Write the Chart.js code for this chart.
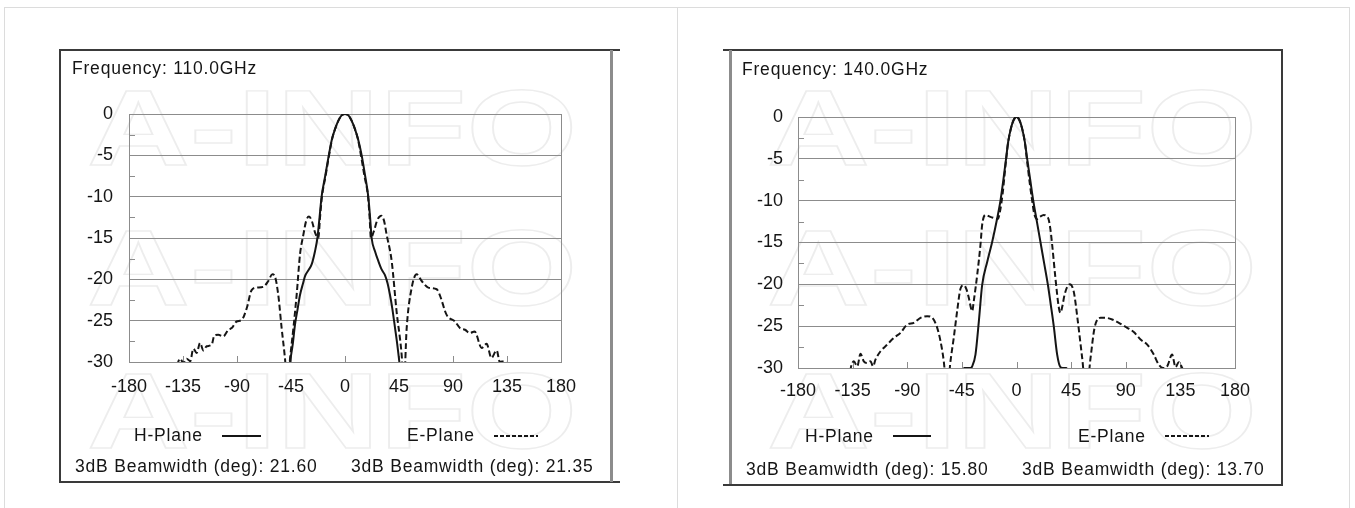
<!DOCTYPE html>
<html>
<head>
<meta charset="utf-8">
<title>Horn antenna radiation patterns</title>
<script src="https://cdn.jsdelivr.net/npm/chart.js@4.4.1/dist/chart.umd.min.js"></script>
<style>
    html, body { margin: 0; padding: 0; background: #fff; }
    body {
        position: relative;
        width: 1355px;
        height: 508px;
        overflow: hidden;
        font-family: "Liberation Sans", Arial, sans-serif;
        color: #151515;
    }
    .abs { position: absolute; }
    .frame { left: 4px; top: 7px; width: 1344px; height: 520px; border: 1px solid #dcdcdc; }
    .divider { left: 677px; top: 7px; width: 1px; height: 510px; background: #dcdcdc; }
    .dark { background: #3a3a3a; }
    .grey { background: #8c8c8c; }
    .label { font-size: 17.5px; letter-spacing: 0.8px; line-height: 20px; white-space: nowrap; }
    .solid { height: 2px; background: #151515; }
    .dashed { height: 2px; background: repeating-linear-gradient(90deg, #151515 0 4px, transparent 4px 6px); }
    canvas { position: absolute; }
</style>
</head>
<body>
<div class="abs frame"></div>
<div class="abs divider"></div>

<canvas id="c110" width="551" height="432" style="left:60px;top:50px"></canvas>
<canvas id="c140" width="552" height="435" style="left:730px;top:50px"></canvas>

<!-- box around the 110 GHz plot -->
<div class="abs dark" style="left:59px;top:49px;width:561px;height:2px"></div>
<div class="abs dark" style="left:59px;top:49px;width:2px;height:434px"></div>
<div class="abs dark" style="left:59px;top:481px;width:561px;height:2px"></div>
<div class="abs grey" style="left:610px;top:50px;width:3px;height:432px"></div>

<!-- box around the 140 GHz plot -->
<div class="abs dark" style="left:723px;top:49px;width:560px;height:2px"></div>
<div class="abs grey" style="left:729px;top:50px;width:3px;height:435px"></div>
<div class="abs dark" style="left:1281px;top:49px;width:2px;height:437px"></div>
<div class="abs dark" style="left:723px;top:484px;width:560px;height:2px"></div>

<script>
// ---- data ----

const frequencies = [110.0, 140.0];            // GHz
const beamwidthH = [21.60, 15.80];             // 3dB beamwidth, H-plane (deg)
const beamwidthE = [21.35, 13.70];             // 3dB beamwidth, E-plane (deg)

const xTicks = [-180, -135, -90, -45, 0, 45, 90, 135, 180];
const yTicks = [-30, -25, -20, -15, -10, -5, 0];

// 110 GHz, H-plane (solid)
const h110Deg = [-49, -45.8, -43.5, -41.7, -39.5, -37.5, -35, -33.3, -30.5, -27.8, -25, -23, -21.2, -19.5,
    -16.5, -13.5, -10.8, -8, -5.5, -3, 0, 3, 5.5, 8, 10.8, 13.9, 16.8, 19.4, 20.9, 22.2, 25, 27.8, 30.5,
    33.3, 35.5, 37.5, 39.5, 41.7, 43.5, 45.3, 49];
const h110Db = [-34, -30, -27.8, -25.5, -23.6, -21.9, -20.5, -19.6, -18.9, -18.2, -16.6, -15, -12.5, -10,
    -7.5, -5, -3, -1.7, -0.8, -0.2, 0, -0.2, -0.8, -1.7, -3, -5, -7.5, -10, -12.5, -15, -16.6, -17.8, -18.8,
    -19.5, -20.5, -21.9, -23.6, -25.9, -27.8, -30, -34];

// 110 GHz, E-plane (dashed)
const e110Deg = [-140, -137.5, -134.7, -131.9, -129, -126.4, -123.6, -120.8, -118, -115.3, -111.1, -108.9,
    -105.6, -101.4, -97.2, -94.4, -90.3, -86, -81.9, -77.8, -73.6, -68, -63.9, -60.6, -58.3, -55.6, -52.8,
    -50, -48, -45.8, -43, -40.3, -37.5, -34.7, -32.3, -30, -27.5, -24.8, -22.2, -20.8, -19.2, -16.2, -13.3,
    -10.7, -8, -5.5, -3, 0, 3, 5.5, 8, 10.7, 13.3, 16.2, 19.2, 20.5, 21.6, 24, 27, 30.3, 32.5, 34.7, 38.9,
    43, 47.2, 49, 51.4, 55.6, 59.7, 63.9, 69.4, 76.4, 79, 84.7, 91.7, 95.8, 100, 104, 108, 113.9, 118, 122,
    126.4, 129, 133, 136];
const e110Db = [-30.4, -29.6, -30.1, -29.6, -29.9, -28.4, -28.9, -27.7, -28.6, -28.1, -27.9, -26.8,
    -26.7, -26.9, -26.1, -25.9, -25.1, -24.9, -23.5, -21.3, -21.0, -20.9, -20.2, -19.4, -19.7, -21.9, -25.9,
    -29.6, -33, -29.6, -25.9, -21.9, -17, -14.6, -12.9, -12.4, -13, -14.4, -15, -12.5, -10, -7.5, -5,
    -3, -1.7, -0.8, -0.2, 0, -0.2, -0.8, -1.7, -3, -5, -7.5, -10, -12.5, -15, -14.2, -12.8, -12.3, -12.9, -14.6, -17.8,
    -23.9, -29.1, -33, -25.9, -21, -19.4, -20.2, -21, -21.2, -21.9, -24.3, -25.1, -25.9, -26.1, -26.5, -26.3, -28.3, -27.8, -29.5,
    -28.6, -30, -29.9, -30.4];

// 140 GHz, H-plane (solid)
const h140Deg = [-46, -43, -38, -36.5, -33.8, -31, -28.3, -24.1, -20, -15.9, -13.2, -10.8, -8.6, -6.9,
    -4.5, -2.2, 0, 2.2, 4.5, 6.9, 8.8, 11.3, 13.8, 16.8, 19.8, 22.8, 25.8, 28.3, 30.7, 33.5, 36.2, 38, 41, 44];
const h140Db = [-31, -30, -30, -29.8, -28.4, -24.4, -20.1, -17.3, -14.9, -12.1, -10, -7.5, -5, -3,
    -1.3, -0.3, 0, -0.3, -1.3, -3, -5, -7.5, -10, -12.5, -15, -17.5, -20, -22.5, -25, -28.4, -29.9, -30, -30, -31];

// 140 GHz, E-plane (dashed)
const e140Deg = [-137, -136.2, -134, -131.2, -128.5, -125.8, -123, -120.3, -118.1, -116.2, -112, -106.5,
    -101, -95.6, -90, -84.6, -79.1, -73.6, -69.4, -65.3, -62.6, -59.9, -57.2, -54.4, -51.7, -48.9, -46.1,
    -43.4, -41.2, -39.3, -36.5, -35.2, -32.4, -29.7, -28.3, -25.5, -22, -18, -15.5, -13.5, -11.3, -8.5,
    -6.85, -4.3, -2.1, 0, 2.1, 4.3, 6.85, 8.5, 11, 12.9, 14.5, 17, 19.5, 22.5, 25, 26.6, 28, 29.4, 32.1,
    34.9, 36.2, 37.8, 39.5, 41.8, 43.9, 47.2, 50.5, 54.1, 57.5, 61, 64.3, 69.2, 73.3, 78.8, 84.3, 91.2,
    96.6, 102.2, 107.7, 113.1, 117.2, 120.8, 124.1, 128.2, 131, 133.7, 136.5, 138];
const e140Db = [-30.4, -29.8, -29.2, -29.8, -28.3, -29.2, -29.4, -29.2, -29.8, -29, -28, -27.2,
    -26.4, -25.8, -24.8, -24.6, -24, -23.8, -24, -25.2, -26.8, -29.2, -33, -29.2, -26.4, -23.2, -20.5,
    -20.1, -20.6, -21.6, -23.2, -22, -18.9, -15.3, -12.9, -11.7, -11.9, -12.1, -12.2, -11.2, -9, -5,
    -3, -1.2, -0.3, 0, -0.3, -1.2, -3, -5, -8, -10, -11.5, -12.2, -11.9, -11.7, -11.9, -12.3, -13.5, -15.3, -19.3,
    -22.8, -23.4, -22.6, -21.3, -20.3, -20, -20.9, -24.4, -28.8, -33, -28.8, -25.2, -24, -24, -24.2, -24.6, -25.2,
    -25.7, -26.6, -27.2, -28.4, -29.6, -30, -29.8, -28.4, -29.9, -29.3, -30, -30.5];

// ---- drawing ----

Chart.defaults.font.family = '"Liberation Sans", Arial, sans-serif';
Chart.defaults.color = '#151515';

const lineColor = '#151515';
const gridColor = '#8c8c8c';

// faint outlined "A-INFO" marks behind everything
const watermark = {
    id: 'watermark',
    beforeDraw(chart, args, opts) {
        const ctx = chart.ctx;
        ctx.save();
        ctx.font = 'bold 107px "Liberation Sans", Arial, sans-serif';
        ctx.strokeStyle = '#ededed';
        ctx.lineWidth = 1.4;
        for (const b of opts.baselines) {
            ctx.save();
            ctx.translate(opts.x, b);
            ctx.scale(1.33, 1);
            ctx.strokeText('A-INFO', 0, 0);
            ctx.restore();
        }
        ctx.restore();
    }
};

// right edge of the plot box plus the short inner ticks
const plotFrame = {
    id: 'plotFrame',
    beforeDatasetsDraw(chart) {
        const { ctx, chartArea: a, scales: { x, y } } = chart;
        const halfSteps = yTicks.slice(1).map((v, i) => (v + yTicks[i]) / 2);
        ctx.save();
        ctx.strokeStyle = gridColor;
        ctx.lineWidth = 1;
        ctx.beginPath();
        ctx.moveTo(a.right + 0.5, a.top);
        ctx.lineTo(a.right + 0.5, a.bottom);
        for (const v of halfSteps) {
            const py = Math.round(y.getPixelForValue(v)) + 0.5;
            ctx.moveTo(a.left, py);
            ctx.lineTo(a.left + 6, py);
        }
        for (const v of xTicks) {
            const px = Math.round(x.getPixelForValue(v)) + 0.5;
            ctx.moveTo(px, a.bottom);
            ctx.lineTo(px, a.bottom - 6);
        }
        ctx.stroke();
        ctx.restore();
    }
};

function toPoints(deg, db) {
    return deg.map((d, i) => ({ x: d, y: db[i] }));
}

function makePattern(canvasId, h, e, geo) {
    return new Chart(document.getElementById(canvasId), {
        type: 'line',
        data: {
            datasets: [
                {
                    label: 'H-Plane',
                    data: toPoints(h[0], h[1]),
                    borderColor: lineColor,
                    borderWidth: 2,
                    pointRadius: 0,
                    cubicInterpolationMode: 'monotone'
                },
                {
                    label: 'E-Plane',
                    data: toPoints(e[0], e[1]),
                    borderColor: lineColor,
                    borderWidth: 2,
                    borderDash: [6, 3],
                    pointRadius: 0,
                    cubicInterpolationMode: 'monotone'
                }
            ]
        },
        options: {
            responsive: false,
            animation: false,
            devicePixelRatio: 1,
            layout: {
                padding: { top: geo.top, right: geo.right, left: 0, bottom: 0 }
            },
            plugins: {
                legend: { display: false },
                tooltip: { enabled: false },
                watermark: { x: geo.markX, baselines: [115, 255, 398] }
            },
            scales: {
                x: {
                    type: 'linear',
                    min: -180,
                    max: 180,
                    afterBuildTicks(scale) {
                        scale.ticks = xTicks.map(value => ({ value }));
                    },
                    afterFit(scale) {
                        scale.height = geo.xHeight;
                    },
                    ticks: {
                        autoSkip: false,
                        maxRotation: 0,
                        padding: geo.xPad,
                        font: { size: 18 }
                    },
                    grid: { display: false, drawTicks: false },
                    border: { color: gridColor, width: 1 }
                },
                y: {
                    min: -30,
                    max: 0,
                    afterBuildTicks(scale) {
                        scale.ticks = yTicks.map(value => ({ value }));
                    },
                    afterFit(scale) {
                        scale.width = geo.yWidth;
                    },
                    ticks: {
                        padding: geo.yPad,
                        font: { size: 18 }
                    },
                    grid: { color: gridColor, lineWidth: 1, drawTicks: false },
                    border: { color: gridColor, width: 1 }
                }
            }
        },
        plugins: [watermark, plotFrame]
    });
}

makePattern('c110', [h110Deg, h110Db], [e110Deg, e110Db],
    { top: 64, right: 50, yWidth: 69, xHeight: 120, xPad: 14, yPad: 16, markX: 27 });
makePattern('c140', [h140Deg, h140Db], [e140Deg, e140Db],
    { top: 67, right: 47, yWidth: 68, xHeight: 117, xPad: 12.5, yPad: 15, markX: 37 });

// ---- texts around the plots ----

const textBlocks = [
    { freq: frequencies[0], bh: beamwidthH[0], be: beamwidthE[0],
      freqPos: [72, 58], hPos: [134, 425], ePos: [407, 425], bwTop: 456, bwLeft: [75, 351],
      solid: [222, 261], dashed: [494, 538], sampleTop: 435 },
    { freq: frequencies[1], bh: beamwidthH[1], be: beamwidthE[1],
      freqPos: [742, 58.5], hPos: [805, 425.5], ePos: [1078, 425.5], bwTop: 459, bwLeft: [746, 1022],
      solid: [893, 931], dashed: [1165, 1209], sampleTop: 435 }
];

function addText(text, left, top) {
    const el = document.createElement('div');
    el.className = 'abs label';
    el.style.left = left + 'px';
    el.style.top = top + 'px';
    el.textContent = text;
    document.body.appendChild(el);
}

function addSample(cls, from, to, top) {
    const el = document.createElement('div');
    el.className = 'abs ' + cls;
    el.style.left = from + 'px';
    el.style.width = (to - from) + 'px';
    el.style.top = top + 'px';
    document.body.appendChild(el);
}

for (const t of textBlocks) {
    addText('Frequency: ' + t.freq.toFixed(1) + 'GHz', t.freqPos[0], t.freqPos[1]);
    addText('H-Plane', t.hPos[0], t.hPos[1]);
    addText('E-Plane', t.ePos[0], t.ePos[1]);
    addText('3dB Beamwidth (deg): ' + t.bh.toFixed(2), t.bwLeft[0], t.bwTop);
    addText('3dB Beamwidth (deg): ' + t.be.toFixed(2), t.bwLeft[1], t.bwTop);
    addSample('solid', t.solid[0], t.solid[1], t.sampleTop);
    addSample('dashed', t.dashed[0], t.dashed[1], t.sampleTop);
}
</script>
</body>
</html>
